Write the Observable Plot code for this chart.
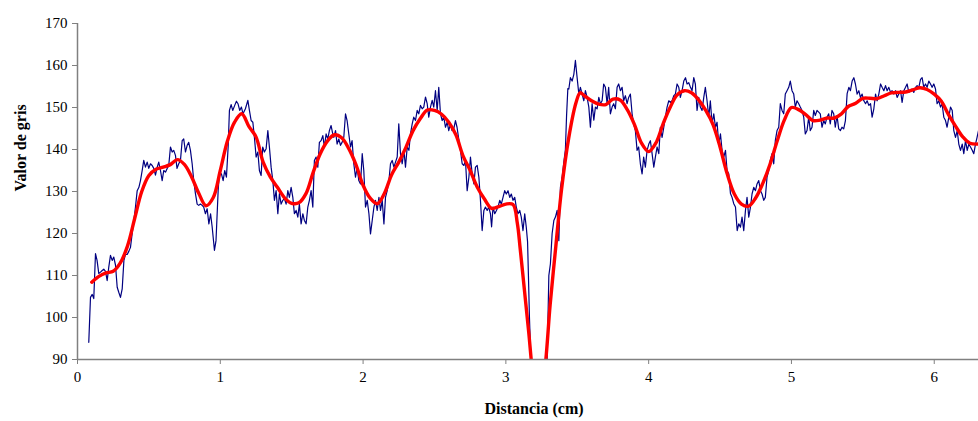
<!DOCTYPE html>
<html>
<head>
<meta charset="utf-8">
<script src="https://cdn.jsdelivr.net/npm/d3@7"></script>
<script src="https://cdn.jsdelivr.net/npm/@observablehq/plot@0.6"></script>
<style>
  html, body { margin: 0; padding: 0; background: #fff; }
  #chart { width: 978px; height: 421px; }
  #chart svg, #chart svg text { font-family: "Liberation Serif", "Times New Roman", serif !important; }
</style>
</head>
<body>
<div id="chart"></div>
<script>
// Axis ticks
const xTicks = [0, 1, 2, 3, 4, 5, 6];
const yTicks = [90, 100, 110, 120, 130, 140, 150, 160, 170];
const xLabel = "Distancia (cm)";
const yLabel = "Valor de gris";

// Raw grey-level profile (blue): [distance cm, grey value]
const rawProfile = [
[0.079,94.1],[0.091,104.8],[0.103,105.5],[0.114,104.5],[0.126,115.2],[0.137,113.6],[0.149,110.5],[0.161,110.8],[0.173,111.2],[0.184,111.5],[0.196,111],[0.208,108.8],[0.219,112],[0.231,114.8],[0.243,113.6],[0.254,114.4],[0.266,112.5],[0.278,107.2],[0.289,106],[0.301,104.8],[0.313,106.8],[0.325,113.6],[0.336,115],[0.348,115],[0.36,115.8],[0.371,116.7],[0.383,120],[0.395,123.2],[0.406,126.3],[0.418,130.2],[0.43,131],[0.441,132.6],[0.453,135],[0.464,137.4],[0.476,135.8],[0.488,137],[0.499,135.5],[0.511,136.6],[0.523,136.2],[0.534,135.5],[0.546,133.9],[0.558,135.8],[0.569,137],[0.581,135],[0.593,132.6],[0.604,135],[0.616,134.6],[0.628,135.5],[0.639,136.2],[0.651,140.6],[0.663,139.4],[0.674,139.8],[0.686,138.6],[0.697,135.5],[0.709,136.6],[0.721,137.4],[0.733,142.1],[0.744,142.5],[0.756,139.4],[0.768,141],[0.779,141.7],[0.791,139.8],[0.803,136.6],[0.814,132.6],[0.826,129.5],[0.838,127],[0.849,126.7],[0.861,127],[0.873,126.7],[0.884,126.3],[0.896,124.7],
[0.908,125.9],[0.92,122.3],[0.932,124.7],[0.943,121.6],[0.959,116],[0.97,118.3],[0.985,130.2],[0.994,134.6],[1.008,134.2],[1.02,132.6],[1.031,135],[1.043,133.4],[1.055,140.6],[1.064,149.3],[1.076,150.7],[1.087,149.3],[1.101,150.5],[1.113,151.5],[1.124,150.9],[1.136,149.3],[1.148,150.1],[1.159,148.5],[1.176,149.7],[1.193,151.7],[1.204,149.3],[1.216,146.9],[1.228,146.5],[1.239,142.9],[1.251,138.2],[1.263,139.4],[1.274,135],[1.286,133.8],[1.297,140.6],[1.309,139.4],[1.321,140.2],[1.333,144.5],[1.344,140.6],[1.356,135.8],[1.368,132.6],[1.379,127.9],[1.391,130.2],[1.403,124.7],[1.414,129.5],[1.426,127],[1.438,127.9],[1.449,128.3],[1.461,127],[1.473,130.2],[1.484,128.6],[1.496,131],[1.508,128.6],[1.519,124.7],[1.531,125.5],[1.543,123.9],[1.554,127],[1.566,122.3],[1.578,124.7],[1.589,123.1],[1.601,122.3],[1.613,126.3],[1.624,127.9],[1.636,130.2],[1.648,126.3],[1.659,137.4],[1.671,138.2],[1.683,135.8],[1.694,141.7],[1.706,142.1],[1.718,143.3],[1.729,140.6],[1.741,143.7],[1.753,142.5],[1.764,144.5],
[1.776,145.7],[1.789,143.5],[1.795,142.9],[1.807,144.5],[1.818,141.3],[1.83,142.5],[1.842,141],[1.853,141.7],[1.865,142.9],[1.877,148.5],[1.888,146.9],[1.9,143.7],[1.912,140.6],[1.923,142.1],[1.935,136.6],[1.947,133.4],[1.959,135.8],[1.97,132.6],[1.982,131.8],[1.994,139],[2.005,135],[2.017,126.3],[2.029,127.9],[2.041,124.7],[2.052,119.9],[2.064,123.1],[2.076,126.3],[2.087,127.9],[2.099,125.5],[2.111,128.6],[2.122,125.5],[2.134,127.9],[2.146,122.3],[2.157,128.6],[2.169,130.2],[2.181,132.6],[2.192,136.6],[2.204,137.4],[2.216,135.8],[2.227,137],[2.239,138.2],[2.25,146.1],[2.262,139],[2.274,136.6],[2.286,139.8],[2.297,135.8],[2.309,140.6],[2.321,139.8],[2.332,143.7],[2.344,146.1],[2.355,147.7],[2.367,146.9],[2.379,149.3],[2.39,148.5],[2.402,150.5],[2.414,149.7],[2.425,150.1],[2.437,152.5],[2.449,150.9],[2.46,147.7],[2.472,150.1],[2.484,151.7],[2.495,150.1],[2.507,154],[2.519,149.3],[2.53,154.8],[2.542,148.5],[2.554,146.9],[2.565,147.7],[2.577,145.3],[2.589,146.5],[2.6,144.5],[2.612,146.1],[2.623,144.5],[2.635,144.9],[2.647,146.9],[2.658,145.3],[2.67,142.5],
[2.682,139.8],[2.694,136.6],[2.706,136.2],[2.717,137.4],[2.729,130.2],[2.741,133.4],[2.752,138.2],[2.764,134.2],[2.776,131.8],[2.787,135.8],[2.799,136.2],[2.811,133.4],[2.822,127.9],[2.834,120.7],[2.846,125.5],[2.857,126.3],[2.869,125.5],[2.88,126.3],[2.892,124.7],[2.9,121.6],[2.91,126.3],[2.922,124.7],[2.934,125.5],[2.945,126.3],[2.957,127.9],[2.968,127],[2.98,128.6],[2.992,130.2],[3.003,129.4],[3.015,130.2],[3.027,128.6],[3.038,129.4],[3.05,127.9],[3.062,128.6],[3.073,126.3],[3.085,124.7],[3.097,125.5],[3.108,123.9],[3.12,120.7],[3.132,124.7],[3.143,121.5],[3.152,118],[3.158,110],[3.165,100.1],[3.18,85],[3.2,75],[3.23,72],[3.26,76],[3.28,85],[3.289,90],[3.301,110],[3.312,112.8],[3.324,120],[3.336,123.1],[3.347,123.9],[3.359,125.5],[3.371,118.3],[3.382,131],[3.394,133.4],[3.406,137],[3.417,140],[3.425,148],[3.434,154.5],[3.441,154.4],[3.452,157.1],[3.464,156.3],[3.476,157.9],[3.487,161.2],[3.499,157.1],[3.511,153.2],
[3.522,154.8],[3.534,153.2],[3.546,151.6],[3.557,154],[3.569,152.4],[3.581,150.1],[3.592,145.3],[3.604,150.9],[3.616,147],[3.627,150.1],[3.639,149.7],[3.651,152.4],[3.662,150.9],[3.674,151.6],[3.685,155.6],[3.697,154.8],[3.709,150.9],[3.72,154.8],[3.732,148.5],[3.744,150.1],[3.755,150.9],[3.767,149.7],[3.779,154.8],[3.79,155.6],[3.802,154],[3.814,154.8],[3.825,151.6],[3.837,152.8],[3.849,150.9],[3.86,152.4],[3.872,153.2],[3.884,148.5],[3.895,146.1],[3.907,144.5],[3.919,139.8],[3.93,140.6],[3.942,136.6],[3.954,134.2],[3.965,138.2],[3.977,135.8],[3.989,139.8],[4.001,141.3],[4.012,142.1],[4.024,139],[4.036,135.8],[4.047,138.2],[4.059,140.6],[4.071,139],[4.082,145.3],[4.094,142.9],[4.106,145.3],[4.117,147.7],[4.129,150.1],[4.141,151.6],[4.152,151.2],[4.164,151.6],[4.176,152.8],[4.187,153.2],[4.199,155.6],[4.211,154.8],[4.222,152.4],[4.234,154],[4.246,156.3],[4.258,157.1],[4.269,155.6],[4.281,155.9],[4.293,154.8],[4.304,154],[4.316,157.1],[4.327,155.6],[4.339,149.3],[4.351,152.4],[4.362,150.1],[4.374,149.3],[4.386,152.4],[4.397,154.8],
[4.409,151.6],[4.421,147.7],[4.432,151.6],[4.444,146.1],[4.456,148.5],[4.468,145.3],[4.479,146.5],[4.491,141.3],[4.503,143.7],[4.514,139.8],[4.526,138.2],[4.538,139.8],[4.549,135],[4.561,134.2],[4.573,129.5],[4.584,128.6],[4.596,127.1],[4.608,126.3],[4.62,120.7],[4.631,122.3],[4.643,121.5],[4.654,123.9],[4.666,120.7],[4.678,125.5],[4.689,128.6],[4.701,123.9],[4.713,126.3],[4.724,129.4],[4.736,131],[4.748,130.2],[4.759,131.8],[4.771,132.6],[4.783,130.2],[4.794,129.4],[4.806,127.9],[4.817,128.6],[4.829,133.4],[4.841,135],[4.852,137.4],[4.864,139],[4.876,136.6],[4.887,142.1],[4.899,144.5],[4.911,145.3],[4.922,150.9],[4.934,149.3],[4.946,148.5],[4.957,153.2],[4.969,154],[4.981,154.8],[4.992,156.3],[5.004,154],[5.016,153.2],[5.027,150.1],[5.039,151.6],[5.051,150.9],[5.062,150.1],[5.074,149.3],[5.086,147.7],[5.097,143.7],[5.109,144.5],[5.121,147.7],[5.132,144.5],[5.144,145.3],[5.156,149.3],[5.167,148.1],[5.179,149.3],[5.191,148.9],[5.202,148.5],[5.214,145.3],[5.226,146.9],[5.237,146.1],[5.249,147.7],[5.261,148.5],[5.272,146.1],[5.284,149.3],[5.296,148.5],[5.307,145.3],[5.319,148.1],[5.331,144.9],
[5.343,144.5],[5.354,145.3],[5.366,144.9],[5.378,146.9],[5.39,153.3],[5.402,154.8],[5.413,154],[5.425,156.3],[5.437,157.1],[5.448,155.6],[5.46,153.2],[5.472,154],[5.483,152.4],[5.495,153.2],[5.507,151.6],[5.519,150.9],[5.53,151.6],[5.542,150.5],[5.554,150.9],[5.565,147.7],[5.577,149.7],[5.589,153.2],[5.6,151.6],[5.612,153.2],[5.624,155.6],[5.635,154.8],[5.647,154],[5.659,155.2],[5.67,154],[5.682,154.8],[5.694,153.6],[5.705,154],[5.717,153.2],[5.729,154],[5.74,152.4],[5.752,153.2],[5.764,154],[5.775,151.2],[5.787,154],[5.799,154.8],[5.81,155.6],[5.822,153.6],[5.834,154],[5.845,154.4],[5.857,153.6],[5.869,154.8],[5.88,155.2],[5.892,154.8],[5.904,156.7],[5.915,157.1],[5.927,154.8],[5.939,155.6],[5.95,154.8],[5.962,156.3],[5.974,155.6],[5.985,154.8],[5.997,155.6],[6.009,154.4],[6.02,150.9],[6.032,151.6],[6.044,150.1],[6.055,150.9],[6.067,147.7],[6.079,146.9],[6.09,145.3],[6.102,147.7],[6.114,150.1],[6.126,149.3],[6.137,144.5],[6.149,142.9],[6.161,144.5],[6.172,141.3],[6.184,139.8],[6.196,141.3],[6.207,139],[6.219,142.1],[6.231,139.8],[6.242,141.3],[6.254,140.6],[6.266,139.8],[6.277,139],[6.289,141.3],[6.3,142.9],[6.31,144.5]
];

// Smoothed profile (red): distances and values
const smoothDist = [0.1,0.15,0.2,0.25,0.3,0.35,0.4,0.45,0.5,0.55,0.6,0.65,0.7,0.75,0.8,0.85,0.9,0.95,1.0,1.05,1.1,1.15,1.2,1.25,1.3,1.35,1.4,1.45,1.5,1.55,1.6,1.65,1.7,1.75,1.8,1.85,1.9,1.95,2.0,2.05,2.1,2.15,2.2,2.25,2.3,2.35,2.4,2.45,2.5,2.55,2.6,2.65,2.7,2.75,2.8,2.85,2.9,2.95,3.0,3.05,3.08,3.1,3.13,3.16,3.19,3.22,3.25,3.28,3.31,3.35,3.39,3.44,3.49,3.52,3.55,3.6,3.65,3.7,3.75,3.8,3.85,3.9,3.95,4.0,4.05,4.1,4.15,4.2,4.25,4.3,4.35,4.4,4.45,4.5,4.55,4.6,4.65,4.7,4.75,4.8,4.85,4.9,4.95,5.0,5.05,5.1,5.15,5.2,5.25,5.3,5.35,5.4,5.45,5.5,5.55,5.6,5.65,5.7,5.75,5.8,5.85,5.9,5.95,6.0,6.05,6.1,6.15,6.2,6.25,6.31];
const smoothGris = [108.4,109.8,110.6,111,113,117,123.5,130,133.8,135.3,135.8,136.4,137.6,136.4,133.4,129.5,126.6,128.5,135,142,146.5,148.5,145.5,143,137,133.5,131,128.5,127.2,127.3,129.5,134.5,139,142,143.5,142.8,140.2,136.4,131.5,128.4,127.1,129.6,134,137,140.5,144.5,147.3,149.4,149.3,148.4,146.5,143.5,138.5,135,131,128.2,126,126.4,127,126.9,122.5,116.5,106.5,96.5,86,80,81,90,103,117,130.5,142.7,151,153.5,152.8,151.6,150.8,150.7,152,151.8,149.5,146,141.5,139.5,141.5,146,150,153,154,153.5,151.8,149.3,146,140.6,134.2,129.4,127,126.5,128.5,132,136.5,142,147,150,149.5,148.3,146.9,147,147.5,147.5,148.5,150.3,151,152.2,152.2,152.1,152.8,153.5,153.6,153.7,154.2,154.7,154.3,153.2,151.5,148.3,145.5,143,141.5,141.3];

const smooth = smoothDist.map((d, i) => ({d, g: smoothGris[i]}));
const raw = rawProfile.map(([d, g]) => ({d, g}));

const chart = Plot.plot({
  width: 978,
  height: 421,
  marginLeft: 77,
  marginRight: 0,
  marginTop: 23,
  marginBottom: 62,
  style: {
    fontFamily: "'Liberation Serif', 'Times New Roman', serif",
    fontSize: "15px",
    color: "#000",
    background: "#fff",
    overflow: "visible"
  },
  x: {domain: [0, 6.31], label: null},
  y: {domain: [90, 170], label: null},
  marks: [
    Plot.line(raw, {x: "d", y: "g", stroke: "#000080", strokeWidth: 1.2, clip: true}),
    Plot.line(smooth, {x: "d", y: "g", stroke: "#ff0000", strokeWidth: 3.4, curve: "catmull-rom", clip: true}),
    Plot.ruleX([0], {stroke: "#808080", strokeWidth: 1.5}),
    Plot.ruleY([90], {stroke: "#808080", strokeWidth: 1.5}),
    Plot.axisX({ticks: xTicks, tickSize: 5, tickPadding: 7, stroke: "#808080", fill: "#000", fontSize: 15, label: null, tickFormat: d => String(d)}),
    Plot.axisY({ticks: yTicks, tickSize: 5, tickPadding: 5, stroke: "#808080", fill: "#000", fontSize: 15, label: null}),
    Plot.text([xLabel], {text: d => d, frameAnchor: "bottom", dy: 54, dx: 6, fontWeight: "bold", fontSize: 16, fill: "#000"}),
    Plot.text([yLabel], {text: d => d, frameAnchor: "left", dx: -57, rotate: -90, fontWeight: "bold", fontSize: 16, fill: "#000"})
  ]
});
document.getElementById("chart").appendChild(chart);
</script>
</body>
</html>
